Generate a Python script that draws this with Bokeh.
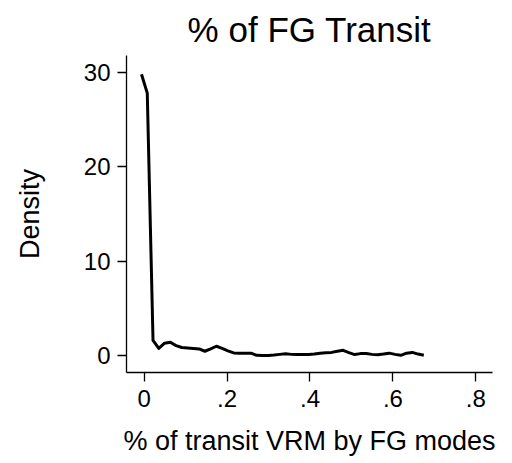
from bokeh.plotting import figure
from bokeh.embed import file_html
from bokeh.resources import INLINE
from bokeh.models import FixedTicker, Range1d

# Kernel density estimate points
share_fg = [-0.0065, 0.0074, 0.0213, 0.0352, 0.0491, 0.0630, 0.0769, 0.0908, 0.1047, 0.1186,
            0.1325, 0.1464, 0.1603, 0.1742, 0.1881, 0.2020, 0.2159, 0.2298, 0.2437, 0.2576,
            0.2715, 0.2854, 0.2993, 0.3132, 0.3271, 0.3410, 0.3549, 0.3688, 0.3827, 0.3966,
            0.4105, 0.4244, 0.4383, 0.4522, 0.4661, 0.4800, 0.4939, 0.5078, 0.5217, 0.5356,
            0.5495, 0.5634, 0.5773, 0.5912, 0.6051, 0.6190, 0.6329, 0.6468, 0.6607, 0.6746]
density = [29.8, 27.8, 1.6, 0.75, 1.3, 1.4, 1.05, 0.85, 0.8, 0.75,
           0.7, 0.45, 0.7, 0.98, 0.75, 0.5, 0.27, 0.25, 0.25, 0.25,
           0.02, 0.0, 0.0, 0.05, 0.12, 0.18, 0.12, 0.1, 0.1, 0.1,
           0.15, 0.25, 0.3, 0.33, 0.45, 0.55, 0.3, 0.1, 0.2, 0.22,
           0.12, 0.07, 0.15, 0.25, 0.12, 0.02, 0.25, 0.33, 0.15, 0.02]

x_ticks = [0, 0.2, 0.4, 0.6, 0.8]
x_tick_labels = ["0", ".2", ".4", ".6", ".8"]
y_ticks = [0, 10, 20, 30]

FONT = "Liberation Sans"

p = figure(width=512, height=463, output_backend="svg", toolbar_location=None,
           x_range=Range1d(-0.0427, 0.8403), y_range=Range1d(-1.8, 31.78),
           min_border_left=126, min_border_right=20, min_border_top=55, min_border_bottom=91,
           title="% of FG Transit")

p.line(share_fg, density, line_color="black", line_width=3, line_join="round")

p.title.text_font = FONT
p.title.text_font_size = "35px"
p.title.text_font_style = "normal"
p.title.align = "center"
p.title.text_color = "black"
p.title.standoff = 14

p.outline_line_color = None
p.xgrid.grid_line_color = None
p.ygrid.grid_line_color = None
p.background_fill_color = "white"
p.border_fill_color = "white"

for ax in (p.xaxis[0], p.yaxis[0]):
    ax.axis_line_color = "black"
    ax.axis_line_width = 1.3
    ax.major_tick_line_color = "black"
    ax.major_tick_line_width = 1.3
    ax.major_tick_in = 0
    ax.major_tick_out = 9
    ax.minor_tick_line_color = None
    ax.major_label_text_font = FONT
    ax.major_label_text_font_size = "24px"
    ax.major_label_text_color = "black"
    ax.axis_label_text_font = FONT
    ax.axis_label_text_font_size = "27px"
    ax.axis_label_text_font_style = "normal"
    ax.axis_label_text_color = "black"

p.xaxis[0].ticker = FixedTicker(ticks=x_ticks)
p.xaxis[0].major_label_overrides = {t: l for t, l in zip(x_ticks, x_tick_labels)}
p.xaxis[0].major_label_standoff = 8
p.xaxis[0].axis_label = "% of transit VRM by FG modes"
p.xaxis[0].axis_label_standoff = 16

p.yaxis[0].ticker = FixedTicker(ticks=y_ticks)
p.yaxis[0].major_label_orientation = "horizontal"
p.yaxis[0].major_label_standoff = 7
p.yaxis[0].axis_label = "Density"
p.yaxis[0].axis_label_standoff = 36

open("out.html", "w").write(file_html(p, INLINE))
